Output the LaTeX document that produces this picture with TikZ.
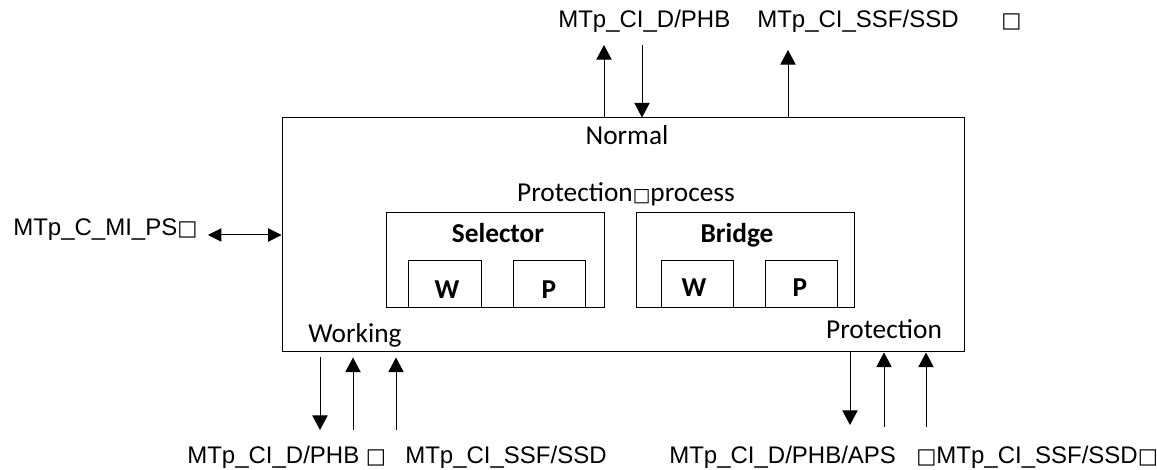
\documentclass[tikz,border=0pt]{standalone}
\usepackage{fontspec}
\setmainfont{Carlito}
\newfontfamily\labfont{Liberation Sans}
\newfontfamily\boxfont{DejaVu Sans}
\newcommand{\tofu}{{\boxfont\fontsize{16}{17}\selectfont □}}
\usetikzlibrary{arrows.meta}

\begin{document}
\begin{tikzpicture}[x=0.75pt, y=-0.75pt,
  every node/.style={font=\fontsize{20.5}{22}\selectfont},
  box/.style={draw, line width=0.75pt, inner sep=0pt},
  txt/.style={anchor=base, inner sep=0pt},
  sig/.style={anchor=base west, inner sep=0pt, font=\labfont\fontsize{18}{20}\selectfont},
  arr/.style={-{Triangle[length=11pt, width=11.5pt]}, line width=0.75pt},
  dbl/.style={{Triangle[length=10pt, width=10pt]}-{Triangle[length=10pt, width=10pt]}, line width=0.75pt}]
  \useasboundingbox (0,0) rectangle (1157,470);
  % function block
  \node[box, minimum width=511.5pt, minimum height=175.5pt] (main) at (623,235) {};
  \node[box, minimum width=163.5pt, minimum height=71.25pt] (sel) at (495,260.5) {};
  \node[box, minimum width=163.5pt, minimum height=71.25pt] (brg) at (745,260.5) {};
  \node[box, minimum width=54.75pt, minimum height=35.25pt] (selw) at (444.5,284.5) {};
  \node[box, minimum width=54pt, minimum height=35.25pt] (selp) at (549,284.5) {};
  \node[box, minimum width=54pt, minimum height=35.25pt] (brgw) at (697,284.5) {};
  \node[box, minimum width=54pt, minimum height=35.25pt] (brgp) at (801,284.5) {};
  \node[txt] (normal) at (627,145) {Normal};
  \node[txt] (proc) at (626,202) {Protection{\boxfont\fontsize{14}{15}\selectfont □}process};
  \node[txt, font=\bfseries\fontsize{20.5}{22}\selectfont] (sellab) at (498,243) {Selector};
  \node[txt, font=\bfseries\fontsize{20.5}{22}\selectfont] (brglab) at (737,243) {Bridge};
  \node[txt, font=\bfseries\fontsize{20.5}{22}\selectfont] (selwlab) at (447,299) {W};
  \node[txt, font=\bfseries\fontsize{20.5}{22}\selectfont] (selplab) at (549,299) {P};
  \node[txt, font=\bfseries\fontsize{20.5}{22}\selectfont] (brgwlab) at (694,297) {W};
  \node[txt, font=\bfseries\fontsize{20.5}{22}\selectfont] (brgplab) at (800,297) {P};
  \node[txt] (work) at (355,343) {Working};
  \node[txt] (prot) at (884,339) {Protection};
  % signal names
  \node[sig] (tdphb) at (558,28) {MTp\_CI\_D/PHB};
  \node[sig] (tssf) at (757,28) {MTp\_CI\_SSF/SSD};
  \node[sig] (tbox) at (1001,28) {\tofu};
  \node[sig] (lmi) at (13,236) {MTp\_C\_MI\_PS\tofu};
  \node[sig] (wdphb) at (187,463) {MTp\_CI\_D/PHB\hspace{5pt}\tofu};
  \node[sig] (wssf) at (405,463) {MTp\_CI\_SSF/SSD};
  \node[sig] (pdphb) at (669,463) {MTp\_CI\_D/PHB/APS};
  \node[sig] (pssf) at (916,463) {\tofu MTp\_CI\_SSF/SSD\tofu};
  % free ends
  \coordinate (t1) at (604,45);
  \coordinate (t2) at (642,45);
  \coordinate (t3) at (788,50);
  \coordinate (l1) at (208,235);
  \coordinate (w1) at (320,430);
  \coordinate (w2) at (353,430);
  \coordinate (w3) at (396,430);
  \coordinate (p1) at (850,425);
  \coordinate (p2) at (884,427);
  \coordinate (p3) at (926,427);
  \draw[arr] (t1 |- main.north) -- (t1);
  \draw[arr] (t2) -- (t2 |- main.north);
  \draw[arr] (t3 |- main.north) -- (t3);
  \draw[dbl] (l1) -- (l1 -| main.west);
  \draw[arr] ([yshift=-3.75pt]w1 |- main.south) -- (w1);
  \draw[arr] (w2) -- ([yshift=-3.75pt]w2 |- main.south);
  \draw[arr] (w3) -- ([yshift=-3.75pt]w3 |- main.south);
  \draw[arr] (p1 |- main.south) -- (p1);
  \draw[arr] (p2) -- (p2 |- main.south);
  \draw[arr] (p3) -- (p3 |- main.south);
\end{tikzpicture}
\end{document}
